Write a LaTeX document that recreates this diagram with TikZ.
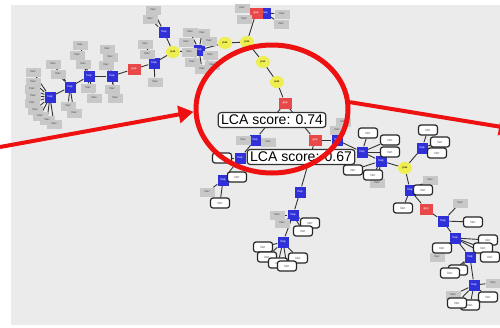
\documentclass[tikz,border=0pt]{standalone}
\usepackage{fontspec}
\setmainfont{Liberation Sans}
\usetikzlibrary{shapes.geometric,arrows.meta}
\pgfdeclarelayer{back}
\pgfdeclarelayer{edges}
\pgfsetlayers{back,edges,main}
\definecolor{bgc}{HTML}{EBEBEB}
\definecolor{hapc}{HTML}{3030D8}
\definecolor{redc}{HTML}{E84848}
\definecolor{yelc}{HTML}{EEEE50}
\definecolor{grc}{HTML}{C8C8C8}
\definecolor{arrc}{HTML}{EE1111}
\tikzset{
  tinyf/.style={font=\fontsize{3pt}{3pt}\selectfont},
  hapn/.style={rectangle,fill=hapc,minimum width=11pt,minimum height=11pt,inner sep=0pt,tinyf,text=white},
  redn/.style={rectangle,fill=redc,minimum width=13pt,minimum height=11pt,inner sep=0pt,tinyf,text=white},
  yeln/.style={ellipse,fill=yelc,minimum width=14pt,minimum height=12pt,inner sep=0pt,tinyf},
  leafg/.style={rectangle,fill=grc,minimum width=15pt,minimum height=9pt,inner sep=0pt,tinyf,text=black!70},
  leafw/.style={rectangle,rounded corners=2.5pt,draw=black!85,line width=1.2pt,fill=white,minimum width=19pt,minimum height=10pt,inner sep=0pt,tinyf,text=black!70},
  edge/.style={draw=black!80,line width=0.9pt},
  lca/.style={rectangle,rounded corners=3pt,draw=black!80,line width=1.2pt,fill=white,inner xsep=3pt,inner ysep=2.5pt,font=\fontsize{14pt}{14pt}\selectfont},
  bigarrow/.style={draw=arrc,line width=4pt,-{Triangle[length=15pt,width=17pt]}}
}
\begin{document}
\begin{tikzpicture}[x=1pt,y=-1pt]
\useasboundingbox (0,0) rectangle (500,327);
\begin{pgfonlayer}{back}
\fill[white] (0,0) rectangle (500,327);
\fill[bgc] (11,5) rectangle (500,325);
\end{pgfonlayer}
% hubs
\foreach \n/\x/\y in {h1/50/97,h2/70/87,h3/89/76,h4/112/76,h5/154/63,h6/164/32,h7/199/50,h8/265/13,h9/337/140,h10/255/140,h11/240/158,h12/223/180,h13/300/192,h14/293/215,h15/283/242,h16/362/152,h17/381/161,h18/422/148,h19/410/190,h20/443/221,h21/455/238,h22/470/257,h23/474/285}
  {\node[hapn] (\n) at (\x,\y) {hap};}
\foreach \n/\x/\y in {r1/134/69,r2/256/13,r3/285/103,r4/315/140,r5/426/209}
  {\node[redn] (\n) at (\x,\y) {gap};}
\foreach \n/\x/\y in {y1/173/52,y2/225/43,y3/247/42,y4/263/62,y5/277/82,y6/405/168}
  {\node[yeln] (\n) at (\x,\y) {pas};}
\begin{pgfonlayer}{edges}
\foreach \a/\b in {h1/h2,h2/h3,h3/h4,h4/r1,r1/h5,h5/y1,y1/h6,y1/h7,h7/y2,y2/y3,y3/r2,r2/h8,y3/y4,y4/y5,y5/r3,r3/r4,r4/h9,r3/h10,h10/h11,h11/h12,r4/h13,h13/h14,h14/h15,h9/h16,h16/h17,h17/y6,y6/h18,y6/h19,h19/r5,r5/h20,h20/h21,h21/h22,h22/h23}
  {\draw[edge] (\a) -- (\b);}
\end{pgfonlayer}
% gray leaves
\foreach \p/\x/\y [count=\i] in {h1/33/72,h1/33/82,h1/32/89,h1/33/96,h1/32/103,h1/35/110,h1/40/116,h1/47/120,h1/54/124,
  h2/53/64,h2/58/74,h2/68/106,h2/74/113,
  h3/80/45,h3/77/55,h3/83/64,h3/88/88,h3/94/98,
  h4/107/49,h4/110/57,h4/106/65,h4/112/89,h4/115/98,
  h5/145/44,h5/147/54,h5/155/82,
  h6/153/10,h6/150/19,
  h7/190/32,h7/202/33,h7/186/42,h7/209/41,h7/189/52,h7/210/55,h7/192/62,h7/202/69,h7/212/65,
  h8/282/14,h8/281/24,r2/242/8,r2/244/19,
  h9/343/122,h9/337/130,h10/243/140,h10/268/142,h12/207/192,h14/277/215,h14/282/223,
  h19/430/180,h17/377/183,h20/460/203,h21/437/257,h23/453/295,h23/493/283}
  {\node[leafg] (g\i) at (\x,\y) {mac};
   \begin{pgfonlayer}{edges}\draw[edge] (\p) -- (g\i);\end{pgfonlayer}}
% white leaves
\foreach \p/\x/\y [count=\i] in {h11/222/158,h12/237/177,h12/220/203,
  h14/310/223,h14/303/231,
  h15/263/247,h15/267/257,h15/278/263,h15/298/258,h15/287/266,
  h16/368/133,h16/390/140,h16/390/152,
  h17/353/170,h17/373/175,
  h18/428/130,h18/440/142,h18/437/153,
  h19/423/190,h19/403/208,
  h20/473/222,
  h21/442/248,h21/488/240,h21/483/248,h21/490/257,
  h22/458/270,h22/450/273,
  h23/488/297,h23/470/305,h23/457/303}
  {\node[leafw] (w\i) at (\x,\y) {hkrt};
   \begin{pgfonlayer}{edges}\draw[edge] (\p) -- (w\i);\end{pgfonlayer}}
% labels
\node[lca] (l1) at (272,120) {LCA score: 0.74};
\node[lca] (l2) at (301,157) {LCA score: 0.67};
% circle and arrows
\node[ellipse,draw=arrc,line width=5pt,minimum width=152pt,minimum height=128pt,inner sep=0pt] (circ) at (272,109) {};
\coordinate (astart) at (0,147);
\coordinate (aend) at (514,129);
\draw[bigarrow] (astart) -- (circ.182);
\draw[bigarrow] (circ.5) -- (aend);
\end{tikzpicture}
\end{document}
